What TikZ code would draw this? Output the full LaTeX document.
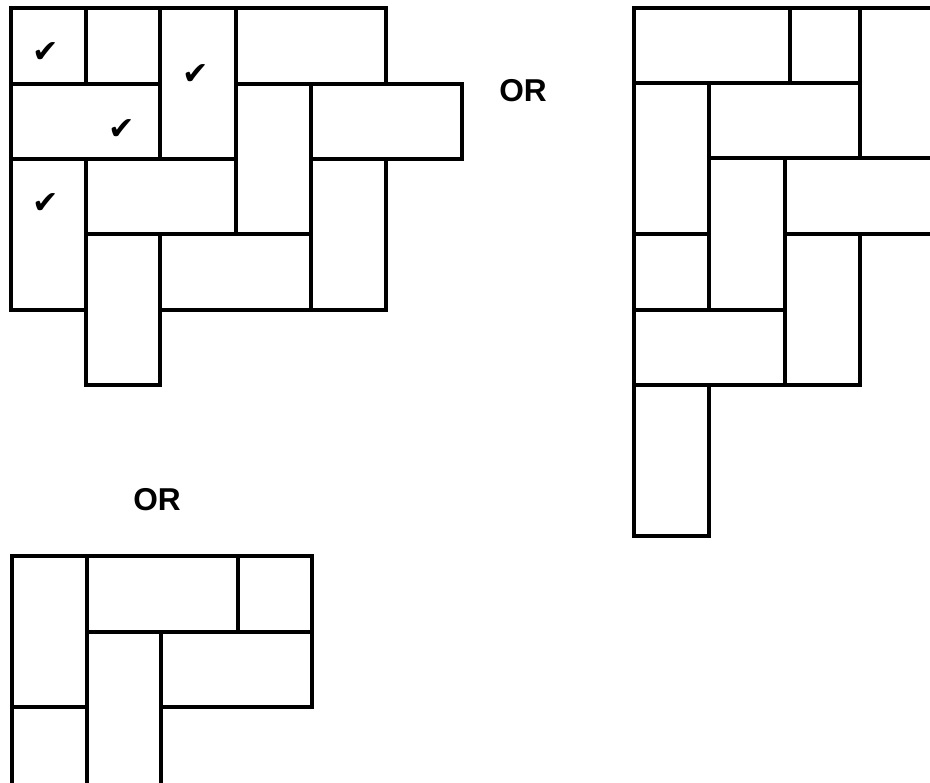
\documentclass[tikz,border=0pt]{standalone}
\usepackage{fontspec}
\setmainfont{Liberation Sans}
\newfontfamily\tickfont{DejaVu Sans}
\usepackage{tikz}
\usetikzlibrary{positioning}

\begin{document}
\begin{tikzpicture}[
  x=0.02cm, y=-0.02cm,
  tile/.style={draw, line width=2pt, line join=miter},
  tick/.style={font=\tickfont\fontsize{18}{18}\selectfont, inner sep=0pt},
  orlabel/.style={font=\bfseries\fontsize{18}{18}\selectfont, inner sep=0pt}
]
  \useasboundingbox (0,0) rectangle (930,782);
  \clip (0,0) rectangle (930,782);

  \draw[tile] (11,8) rectangle (86,84);
  \draw[tile] (86,8) rectangle (160,84);
  \draw[tile] (160,8) rectangle (236,159);
  \draw[tile] (236,8) rectangle (386,84);
  \draw[tile] (11,84) rectangle (160,159);
  \draw[tile] (236,84) rectangle (311,234);
  \draw[tile] (311,84) rectangle (462,159);
  \draw[tile] (11,159) rectangle (86,310);
  \draw[tile] (86,159) rectangle (236,234);
  \draw[tile] (311,159) rectangle (386,310);
  \draw[tile] (86,234) rectangle (160,385);
  \draw[tile] (160,234) rectangle (311,310);

  \node[tick] (tickA) at (46,53) {✔};
  \node[tick] (tickB) at (196,75) {✔};
  \node[tick] (tickC) at (122,130) {✔};
  \node[tick] (tickD) at (46,204) {✔};

  \node[orlabel] (orA) at (523,91) {OR};

  \draw[tile] (634,8) rectangle (790,83);
  \draw[tile] (790,8) rectangle (860,83);
  \draw[tile] (860,8) rectangle (1010,158);
  \draw[tile] (634,83) rectangle (709,234);
  \draw[tile] (709,83) rectangle (860,158);
  \draw[tile] (709,158) rectangle (785,310);
  \draw[tile] (785,158) rectangle (935,234);
  \draw[tile] (634,234) rectangle (709,310);
  \draw[tile] (785,234) rectangle (860,385);
  \draw[tile] (634,310) rectangle (785,385);
  \draw[tile] (634,385) rectangle (709,536);

  \node[orlabel] (orB) at (157,500) {OR};

  \draw[tile] (12,556) rectangle (87,707);
  \draw[tile] (87,556) rectangle (238,632);
  \draw[tile] (238,556) rectangle (312,632);
  \draw[tile] (87,632) rectangle (161,800);
  \draw[tile] (161,632) rectangle (312,707);
  \draw[tile] (12,707) rectangle (87,800);
\end{tikzpicture}
\end{document}
